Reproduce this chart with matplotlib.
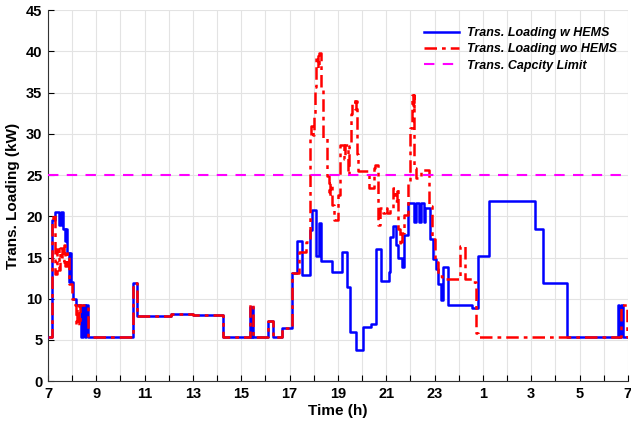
import matplotlib
matplotlib.use("Agg")
import matplotlib.pyplot as plt
import numpy as np

# Time in hours (7 h on day 1 to 7 h on day 2 -> 7..31)
t_w = [7.00, 7.18, 7.30, 7.45, 7.55, 7.62, 7.70, 7.75, 7.80, 7.88, 7.92, 7.97, 8.05, 8.15,
       8.30, 8.38, 8.45, 8.52, 8.58, 8.66, 10.50, 10.67, 12.10, 13.00, 14.25, 15.35, 15.40,
       15.45, 15.50, 16.10, 16.30, 16.70, 17.10, 17.30, 17.50, 17.85, 17.92, 18.10, 18.20,
       18.30, 18.75, 19.15, 19.37, 19.50, 19.75, 20.02, 20.37, 20.57, 20.77, 21.10, 21.15,
       21.30, 21.40, 21.50, 21.65, 21.75, 21.90, 22.15, 22.22, 22.35, 22.42, 22.55, 22.62,
       22.80, 22.95, 23.05, 23.15, 23.25, 23.35, 23.55, 24.55, 24.80, 25.25, 27.15, 27.50,
       28.50, 30.60, 30.65, 30.70, 30.80, 31.00]
load_w = [5.4, 19.5, 20.5, 19.0, 20.5, 18.5, 17.0, 18.5, 15.5, 12.0, 15.5, 12.0, 10.0, 9.3,
          9.3, 5.4, 9.3, 5.4, 9.3, 5.4, 11.9, 7.9, 8.1, 8.0, 5.4, 9.0, 5.4,
          9.0, 5.4, 7.3, 5.4, 6.5, 13.1, 17.0, 12.9, 18.3, 20.8, 15.2, 19.2,
          14.6, 13.2, 15.7, 11.4, 6.0, 3.8, 6.6, 6.9, 16.0, 12.1, 13.2, 17.5,
          18.8, 16.5, 15.0, 13.8, 17.7, 21.6, 19.3, 21.6, 19.3, 21.6, 19.3, 21.0,
          17.3, 14.8, 13.6, 11.8, 9.9, 13.8, 9.3, 8.9, 15.2, 21.8, 18.5, 11.9,
          5.4, 9.3, 5.4, 9.3, 5.4, 5.4]

t_wo = [7.00, 7.15, 7.22, 7.30, 7.38, 7.45, 7.50, 7.58, 7.65, 7.72, 7.80, 7.88, 8.00, 8.10,
        8.17, 8.22, 8.28, 8.33, 8.66, 10.50, 10.67, 12.10, 13.00, 14.25, 15.35, 15.50,
        16.10, 16.30, 16.70, 17.10, 17.40, 17.70, 17.85, 17.90, 17.95, 18.00, 18.05, 18.10,
        18.18, 18.22, 18.28, 18.32, 18.40, 18.55, 18.62, 18.68, 18.75, 18.85, 19.00, 19.10,
        19.25, 19.30, 19.40, 19.45, 19.55, 19.60, 19.70, 19.75, 19.80, 19.85, 20.30, 20.50,
        20.55, 20.65, 20.75, 20.85, 20.95, 21.05, 21.15, 21.27, 21.35, 21.45, 21.50, 21.55,
        21.65, 21.75, 21.90, 21.97, 22.05, 22.12, 22.15, 22.17, 22.25, 22.45, 22.75, 22.90,
        23.00, 23.15, 23.30, 24.05, 24.25, 24.60, 24.70, 24.80, 30.70, 30.95, 31.00]
load_wo = [5.4, 19.5, 20.3, 13.0, 16.0, 13.5, 16.2, 14.5, 16.5, 14.0, 15.5, 11.8, 10.0, 9.3,
           6.8, 9.3, 6.8, 9.3, 5.4, 11.9, 7.9, 8.1, 8.0, 5.4, 9.4, 5.4,
           7.3, 5.4, 6.5, 13.1, 15.7, 16.9, 29.5, 31.0, 29.8, 32.0, 35.7, 39.6,
           38.0, 39.8, 37.5, 35.7, 29.5, 24.9, 22.5, 24.0, 21.4, 19.5, 22.6, 28.7,
           27.0, 28.7, 25.0, 28.5, 32.4, 34.0, 33.0, 34.0, 27.5, 25.5, 23.4, 25.9,
           26.2, 18.9, 21.0, 20.4, 21.0, 20.4, 21.0, 23.4, 21.8, 23.4, 18.5, 16.5,
           18.0, 20.1, 24.3, 30.7, 34.7, 33.0, 34.7, 25.9, 24.6, 25.6, 21.3, 17.3,
           14.4, 12.7, 12.4, 16.4, 12.4, 12.0, 5.8, 5.4, 9.3, 5.4, 5.4]

capacity_limit = 25
xtick_pos = list(range(7, 32, 2))
xtick_labels = ['7', '9', '11', '13', '15', '17', '19', '21', '23', '1', '3', '5', '7']

plt.rcParams['font.family'] = ['Liberation Sans', 'DejaVu Sans']
plt.rcParams['font.weight'] = 'bold'

fig = plt.figure(figsize=(6.31, 4.24), dpi=100)
ax = fig.add_axes([0.076, 0.101, 0.919, 0.875])

ax.step(t_w, load_w, where='post', color='#0000ff', lw=1.8,
        label='Trans. Loading w HEMS', zorder=3)
ax.step(t_wo, load_wo, where='post', color='#ff0000', lw=1.8, dashes=(5, 2, 1.5, 2),
        label='Trans. Loading wo HEMS', zorder=4)
ax.axhline(capacity_limit, color='#ff00ff', lw=1.5, dashes=(5, 4),
           label='Trans. Capcity Limit', zorder=5)

ax.set_xlim(7, 31)
ax.set_ylim(0, 45)
ax.set_xticks(xtick_pos)
ax.set_xticklabels(xtick_labels)
ax.set_xticks(range(8, 31, 2), minor=True)
ax.set_yticks(range(0, 46, 5))
ax.tick_params(axis='both', which='both', direction='in', labelsize=10.5, length=4,
               width=0.8, pad=4)
for lab in ax.get_xticklabels() + ax.get_yticklabels():
    lab.set_fontweight('bold')
ax.grid(True, which='both', color='#e3e3e3', lw=0.8)
ax.set_axisbelow(True)
for s in ['top', 'right']:
    ax.spines[s].set_visible(False)
for s in ['left', 'bottom']:
    ax.spines[s].set_color('#333333')
    ax.spines[s].set_linewidth(0.8)

ax.set_xlabel('Time (h)', fontsize=11, fontweight='bold', labelpad=2)
ax.set_ylabel('Trans. Loading (kW)', fontsize=11, fontweight='bold', labelpad=4)

leg = ax.legend(loc='upper right', bbox_to_anchor=(1.0, 0.985), frameon=False,
                prop={'size': 9, 'weight': 'bold', 'style': 'italic'},
                handlelength=2.8, labelspacing=0.35, handletextpad=0.6)

fig.savefig('out.png', dpi=100)
